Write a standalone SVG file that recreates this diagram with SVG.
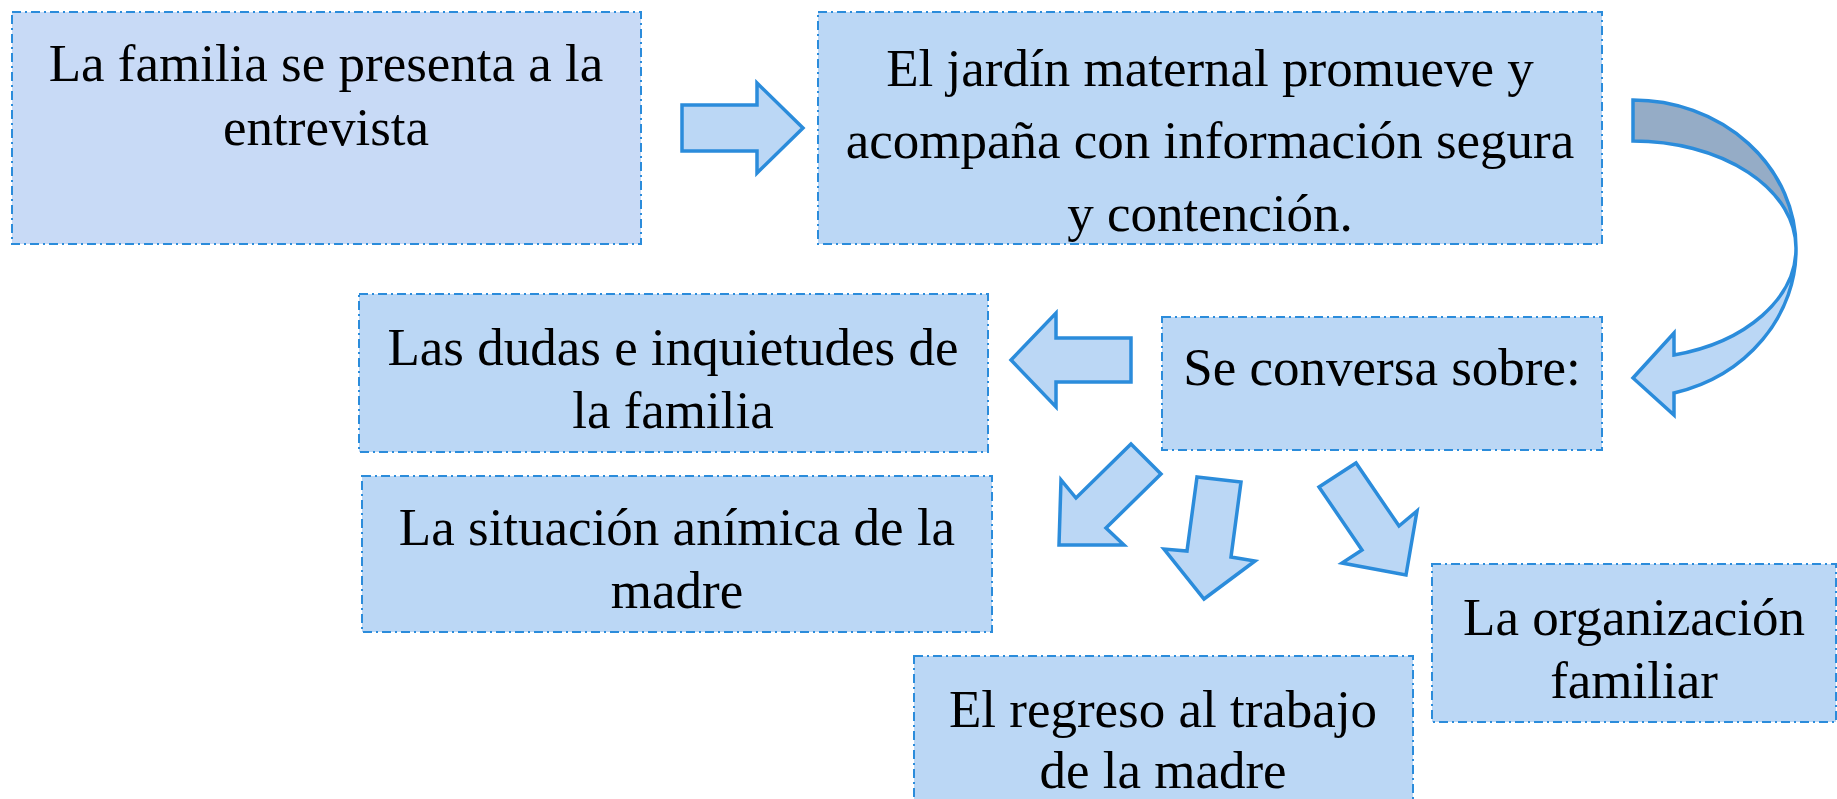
<svg xmlns="http://www.w3.org/2000/svg" width="1837" height="799" viewBox="0 0 1837 799">
<style>
.box{fill:#BBD7F5;stroke:#2B8CDB;stroke-width:2;stroke-dasharray:9 4 2 4}
.b1{fill:#C8DAF6}
.t{font-family:"Liberation Serif","Times New Roman",serif;font-size:53px;fill:#000;text-anchor:middle}
.arr{fill:#BBD7F5;stroke:#2B8CDB;stroke-width:3.5;stroke-linejoin:miter}
.back{fill:#95ACC6;stroke:#2B8CDB;stroke-width:3.5}
</style>
<rect width="1837" height="799" fill="#fff"/>
<g id="n1">
<rect class="box b1" x="12" y="12" width="629" height="232"/>
<text class="t" x="326" y="81">La familia se presenta a la</text>
<text class="t" x="326" y="145">entrevista</text>
</g>
<g id="n2">
<rect class="box" x="818" y="12" width="784" height="232"/>
<text class="t" x="1210" y="86">El jardín maternal promueve y</text>
<text class="t" x="1210" y="158">acompaña con información segura</text>
<text class="t" x="1210" y="231">y contención.</text>
</g>
<g id="n3">
<rect class="box" x="1162" y="317" width="440" height="133"/>
<text class="t" x="1382" y="385">Se conversa sobre:</text>
</g>
<g id="n4">
<rect class="box" x="359" y="294" width="629" height="158"/>
<text class="t" x="673" y="365">Las dudas e inquietudes de</text>
<text class="t" x="673" y="428">la familia</text>
</g>
<g id="n5">
<rect class="box" x="362" y="476" width="630" height="156"/>
<text class="t" x="677" y="545">La situación anímica de la</text>
<text class="t" x="677" y="608">madre</text>
</g>
<g id="n6">
<rect class="box" x="914" y="656" width="499" height="170"/>
<text class="t" x="1163" y="727">El regreso al trabajo</text>
<text class="t" x="1163" y="788">de la madre</text>
</g>
<g id="n7">
<rect class="box" x="1432" y="564" width="404" height="158"/>
<text class="t" x="1634" y="635">La organización</text>
<text class="t" x="1634" y="698">familiar</text>
</g>
<g id="connectors">
<polygon class="arr" points="682,105 757,105 757,83 803,128 757,173 757,151 682,151"/>
<path class="back" d="M1633,100 A163,148 0 0 1 1796,248 A163,107 0 0 0 1633,141 Z"/>
<path class="arr" d="M1796,248 A163,148 0 0 1 1674,393 L1674,415 L1633,378 L1674,333 L1674,355 A163,110 0 0 0 1796,248 Z"/>
<polygon class="arr" points="1131,338 1056,338 1056,313 1011,360 1056,407 1056,382 1131,382"/>
<polygon class="arr" points="1131,444 1161,474 1106,528 1124,545 1059,545 1061,480 1076,498"/>
<polygon class="arr" points="1197,477 1241,482 1231,557 1255,561 1204,599 1164,549 1187,551"/>
<polygon class="arr" points="1319,487 1356,463 1399,526 1417,511 1406,575 1342,563 1362,550"/>
</g>
</svg>
